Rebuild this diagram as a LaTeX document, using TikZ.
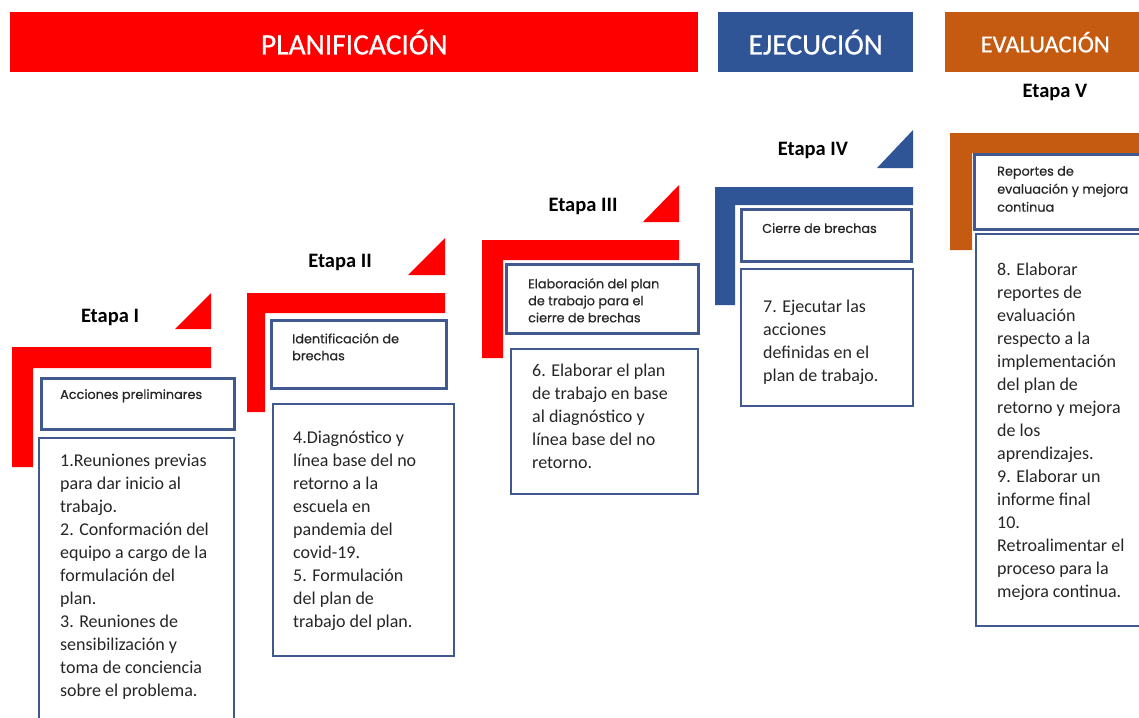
\documentclass[tikz,border=0pt]{standalone}
\usepackage{fontspec}
\setmainfont{Carlito}
\newfontfamily\geo[FakeBold=0.5]{Poppins}
\newfontfamily\bannerfont[FakeBold=0.7]{Carlito}
\definecolor{pred}{HTML}{FF0000}
\definecolor{pblue}{HTML}{2F5597}
\definecolor{porange}{HTML}{C55A11}
\definecolor{bord}{HTML}{41598F}
\definecolor{txt}{HTML}{262626}
\tikzset{
  banner/.style={anchor=north west, inner sep=0, minimum height=60, text=white, font=\bannerfont\fontsize{29.5}{34}\selectfont},
  etapa/.style={inner sep=0, text=black, font=\fontsize{20.5}{24}\selectfont\bfseries},
  titlebox/.style={draw=bord, line width=2.5pt, fill=white, anchor=north west, inner sep=0},
  bodybox/.style={draw=bord, line width=2pt, fill=white, anchor=north west, inner sep=0},
  titletext/.style={anchor=north west, inner sep=0, align=left, text=txt, font=\geo\fontsize{12.8}{17}\selectfont},
  bodytext/.style={anchor=north west, inner sep=0, align=left, text=txt, font=\fontsize{18}{23}\selectfont},
}
\begin{document}
\begin{tikzpicture}[x=1pt,y=-1pt]
\useasboundingbox (0,0) rectangle (1139,717);
\clip (0,0) rectangle (1139,717);
\fill[white] (0,0) rectangle (1139,717);

% banners
\node[banner, fill=pred, minimum width=688] (plan) at (10,12) {PLANIFICACIÓN};
\node[banner, fill=pblue, minimum width=195] (ejec) at (718,12) {EJECUCIÓN};
\node[banner, fill=porange, minimum width=200, font=\bannerfont\fontsize{24.5}{28}\selectfont] (eval) at (945,12) {EVALUACIÓN};

% stage labels
\node[etapa] (e1) at (110,317) {Etapa I};
\node[etapa] (e2) at (340,262) {Etapa II};
\node[etapa] (e3) at (583,206) {Etapa III};
\node[etapa] (e4) at (813,150) {Etapa IV};
\node[etapa] (e5) at (1055,92) {Etapa V};

% triangles
\fill[pred] (175,329) -- (211,329) -- (211,293) -- cycle;
\fill[pred] (408,275) -- (445,275) -- (445,238) -- cycle;
\fill[pred] (643,222) -- (679,222) -- (679,185) -- cycle;
\fill[pblue] (877,168) -- (913,168) -- (913,130) -- cycle;

% L shapes
\fill[pred] (12,347) -- (211,347) -- (211,368) -- (33,368) -- (33,467) -- (12,467) -- cycle;
\fill[pred] (247,293) -- (445,293) -- (445,313) -- (265,313) -- (265,412) -- (247,412) -- cycle;
\fill[pred] (482,240) -- (679,240) -- (679,260) -- (503,260) -- (503,358) -- (482,358) -- cycle;
\fill[pblue] (715,187) -- (913,187) -- (913,205) -- (735,205) -- (735,305) -- (715,305) -- cycle;
\fill[porange] (950,133) -- (1145,133) -- (1145,153) -- (972,153) -- (972,250) -- (950,250) -- cycle;

% title boxes
\node[titlebox, minimum width=193, minimum height=51] (h1) at (40,377) {};
\node[titlebox, minimum width=175, minimum height=68] (h2) at (270,319) {};
\node[titlebox, minimum width=192, minimum height=69] (h3) at (505,263) {};
\node[titlebox, minimum width=170, minimum height=52] (h4) at (740,208) {};
\node[titlebox, minimum width=175, minimum height=75] (h5) at (973,153) {};

\node[titletext] (ht1) at (60,389) {Acciones preliminares};
\node[titletext] (ht2) at (292,333) {Identificación de\\brechas};
\node[titletext] (ht3) at (528,278) {Elaboración del plan\\de trabajo para el\\cierre de brechas};
\node[titletext] (ht4) at (762,223) {Cierre de brechas};
\node[titletext, font=\geo\fontsize{12.8}{18}\selectfont] (ht5) at (997,166) {Reportes de\\evaluación y mejora\\continua};

% body boxes
\node[bodybox, minimum width=195, minimum height=290] (b1) at (38,437) {};
\node[bodybox, minimum width=181, minimum height=252] (b2) at (272,403) {};
\node[bodybox, minimum width=187, minimum height=145] (b3) at (510,348) {};
\node[bodybox, minimum width=172, minimum height=137] (b4) at (740,268) {};
\node[bodybox, minimum width=175, minimum height=392] (b5) at (975,233) {};

\node[bodytext] (bt1) at (60,454) {1.Reuniones previas\\para dar inicio al\\trabajo.\\2. Conformación del\\equipo a cargo de la\\formulación del\\plan.\\3. Reuniones de\\sensibilización y\\toma de conciencia\\sobre el problema.};
\node[bodytext] (bt2) at (293,431) {4.Diagnóstico y\\línea base del no\\retorno a la\\escuela en\\pandemia del\\covid-19.\\5. Formulación\\del plan de\\trabajo del plan.};
\node[bodytext] (bt3) at (532,364) {6. Elaborar el plan\\de trabajo en base\\al diagnóstico y\\línea base del no\\retorno.};
\node[bodytext] (bt4) at (763,300) {7. Ejecutar las\\acciones\\definidas en el\\plan de trabajo.};
\node[bodytext] (bt5) at (997,263) {8. Elaborar\\reportes de\\evaluación\\respecto a la\\implementación\\del plan de\\retorno y mejora\\de los\\aprendizajes.\\9. Elaborar un\\informe final\\10.\\Retroalimentar el\\proceso para la\\mejora continua.};
\end{tikzpicture}
\end{document}
